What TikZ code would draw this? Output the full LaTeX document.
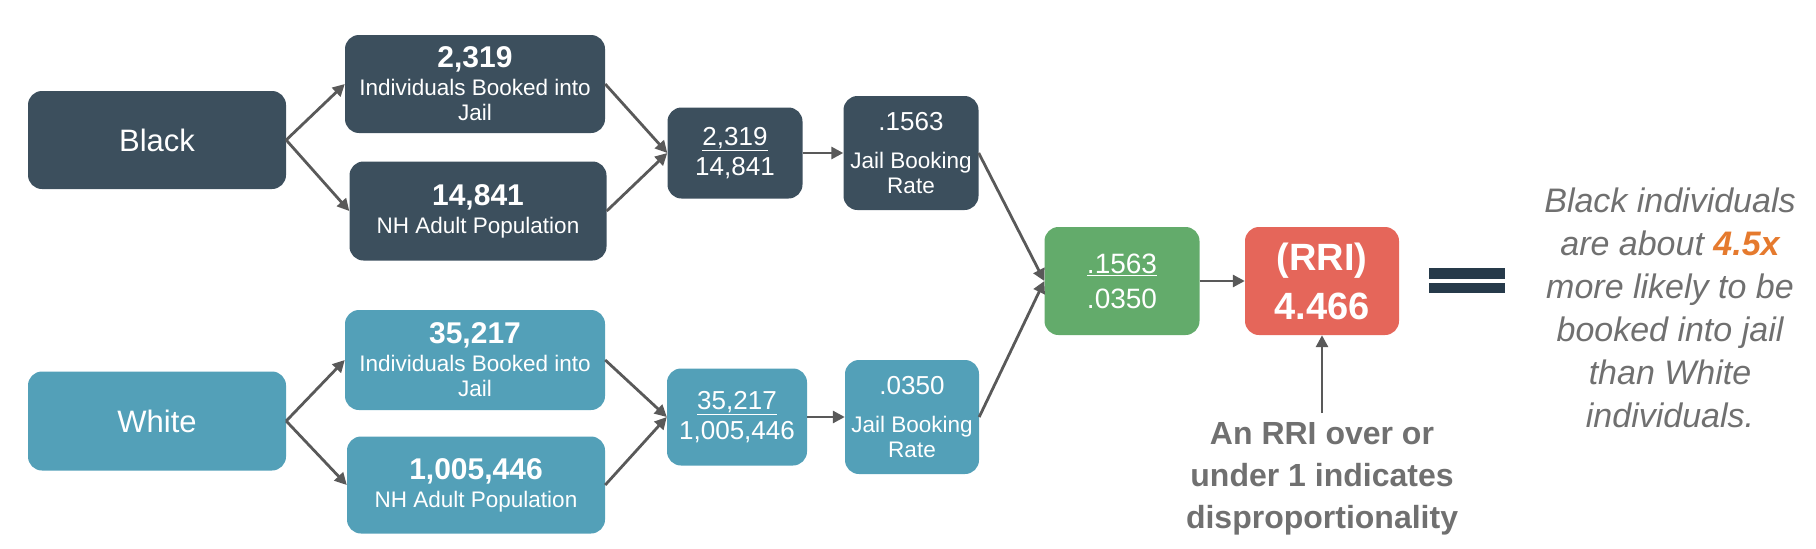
\documentclass[tikz,border=0pt]{standalone}
\usepackage{fontspec}
\setmainfont{Liberation Sans}
\usetikzlibrary{arrows.meta}
\definecolor{cSlate}{HTML}{3C4F5D}
\definecolor{cTeal}{HTML}{53A0B8}
\definecolor{cGreen}{HTML}{63AB6B}
\definecolor{cRed}{HTML}{E5665A}
\definecolor{cOrange}{HTML}{E57A2E}
\definecolor{cGray}{HTML}{707070}
\definecolor{cArrow}{HTML}{595959}
\definecolor{cEq}{HTML}{263A4A}
\newcommand\fs[2]{\fontsize{#1}{#2}\selectfont}
\tikzset{
  box/.style={rounded corners=14pt, text=white, align=center, inner sep=0pt},
  arr/.style={draw=cArrow, line width=2.8pt, -{Triangle[length=12pt,width=12pt]}},
}
\begin{document}
\begin{tikzpicture}[x=1pt,y=-1pt]
\useasboundingbox (0,0) rectangle (1816,549);
% Black row
\node[box, fill=cSlate, minimum width=258pt, minimum height=98pt, font=\fs{31}{36}] (black) at (157,140) {Black};
\node[box, fill=cSlate, minimum width=260pt, minimum height=98pt, font=\fs{22.5}{25}] (bbook) at (475,84) {{\fs{30}{30}\bfseries 2,319}\\[3pt]Individuals Booked into\\Jail};
\node[box, fill=cSlate, minimum width=257pt, minimum height=99pt, font=\fs{22.5}{25}] (bpop) at (478,211) {{\fs{30}{30}\bfseries 14,841}\\[3pt]NH Adult Population};
\node[box, fill=cSlate, minimum width=135pt, minimum height=91pt, font=\fs{26}{30}] (bfrac) at (735,153) {\underline{2,319}\\14,841};
\node[box, fill=cSlate, minimum width=135pt, minimum height=114pt, font=\fs{22.5}{25}] (brate) at (911,153) {{\fs{26}{30}.1563}\\[13pt]Jail Booking\\Rate};
% White row
\node[box, fill=cTeal, minimum width=258pt, minimum height=99pt, font=\fs{31}{36}] (white) at (157,421) {White};
\node[box, fill=cTeal, minimum width=260pt, minimum height=100pt, font=\fs{22.5}{25}] (wbook) at (475,360) {{\fs{30}{30}\bfseries 35,217}\\[3pt]Individuals Booked into\\Jail};
\node[box, fill=cTeal, minimum width=258pt, minimum height=97pt, font=\fs{22.5}{25}] (wpop) at (476,485) {{\fs{30}{30}\bfseries 1,005,446}\\[3pt]NH Adult Population};
\node[box, fill=cTeal, minimum width=140pt, minimum height=97pt, font=\fs{26}{30}] (wfrac) at (737,417) {\underline{35,217}\\1,005,446};
\node[box, fill=cTeal, minimum width=134pt, minimum height=114pt, font=\fs{22.5}{25}] (wrate) at (912,417) {{\fs{26}{30}.0350}\\[13pt]Jail Booking\\Rate};
% result
\node[box, fill=cGreen, minimum width=155pt, minimum height=108pt, font=\fs{28}{35}] (ratio) at (1122,281) {\underline{.1563}\\.0350};
\node[box, fill=cRed, minimum width=154pt, minimum height=108pt, font=\fs{38}{49}\bfseries] (rri) at (1322,281) {(RRI)\\4.466};
% equals
\fill[cEq] (1429,268) rectangle (1505,279);
\fill[cEq] (1429,283) rectangle (1505,293);
% texts
\node[anchor=north, align=center, inner sep=0pt, text=cGray, font=\fs{34}{43}\itshape] (concl) at (1670,188)
  {Black individuals\\are about {\color{cOrange}\bfseries 4.5x}\\more likely to be\\booked into jail\\than White\\individuals.};
\node[anchor=north, align=center, inner xsep=0pt, inner ysep=9pt, text=cGray, font=\fs{32}{42}\bfseries] (note) at (1322,413)
  {An RRI over or\\under 1 indicates\\disproportionality};
% connectors
\draw[arr] (black.east) -- (bbook.west);
\draw[arr] (black.east) -- (bpop.west);
\draw[arr] (bbook.east) -- (bfrac.west);
\draw[arr] (bpop.east) -- (bfrac.west);
\draw[arr] (bfrac.east) -- (brate.west);
\draw[arr] (white.east) -- (wbook.west);
\draw[arr] (white.east) -- (wpop.west);
\draw[arr] (wbook.east) -- (wfrac.west);
\draw[arr] (wpop.east) -- (wfrac.west);
\draw[arr] (wfrac.east) -- (wrate.west);
\draw[arr] (brate.east) -- (ratio.west);
\draw[arr] (wrate.east) -- (ratio.west);
\draw[arr] (ratio.east) -- (rri.west);
\draw[arr] (note.north) -- (rri.south);
\end{tikzpicture}
\end{document}
